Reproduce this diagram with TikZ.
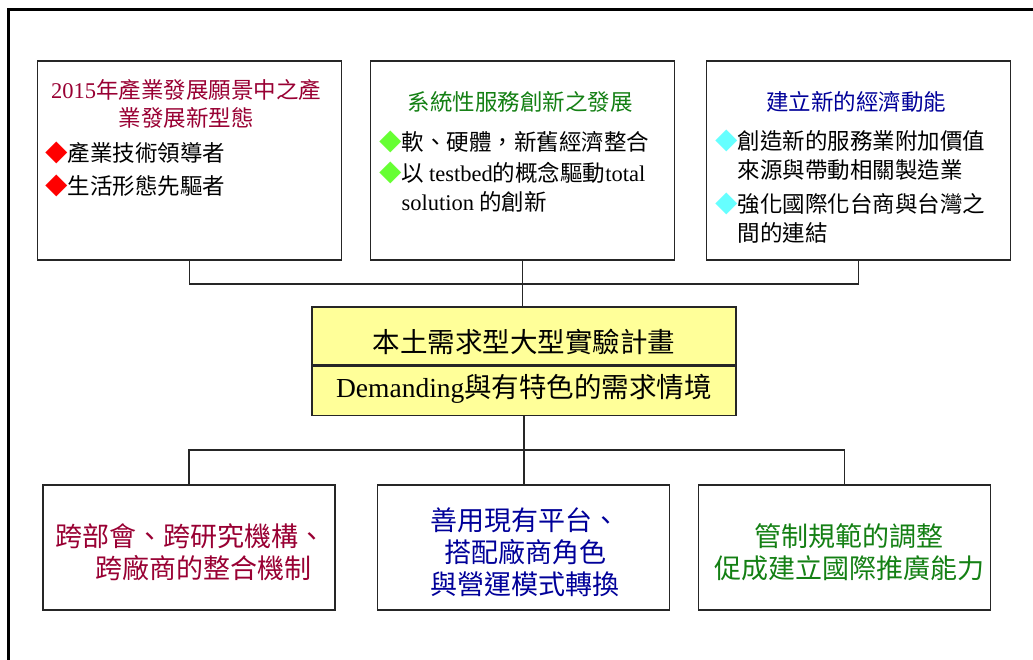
\documentclass[tikz,border=0pt]{standalone}
\usepackage{fontspec}
\setmainfont{Noto Sans CJK TC}
\newfontfamily\lat{Liberation Serif}
\usepackage{tikz}
\usetikzlibrary{positioning, calc}
\definecolor{VisionRed}{RGB}{153,0,51}
\definecolor{ServiceGreen}{RGB}{20,128,20}
\definecolor{DynamicBlue}{RGB}{0,0,153}
\definecolor{DiaRed}{RGB}{255,0,0}
\definecolor{DiaGreen}{RGB}{102,255,51}
\definecolor{DiaCyan}{RGB}{102,255,255}
\definecolor{PlanYellow}{RGB}{255,255,153}
\newcommand\topfont{\fontsize{22.5}{29}\selectfont}
\newcommand\bigfont{\fontsize{27}{32}\selectfont}
\newcommand\bul[1]{\textcolor{#1}{◆}}
\newcommand\hang{\phantom{◆}}

\begin{document}
\begin{tikzpicture}[x=1pt, y=-1pt,
	box/.style={draw=black!85, line width=1.4pt, fill=white, inner sep=0pt},
	topbox/.style={box, minimum width=304pt, minimum height=199pt},
	lowbox/.style={box, minimum width=292pt, minimum height=125pt},
	planbox/.style={box, fill=PlanYellow, minimum width=424pt},
	ttl/.style={align=center, inner sep=0pt, font=\topfont},
	lst/.style={align=left, anchor=west, inner sep=0pt, font=\topfont},
	big/.style={align=center, inner sep=0pt, font=\bigfont},
	ln/.style={line width=1.4pt, black!85}]
	\useasboundingbox (0,0) rectangle (1033,660);
	\draw[line width=3pt] (1033,10) -- (8,10) -- (8,660);
	% upper row
	\node[topbox] (vision) at (189.5,160.5) {};
	\node[topbox] (service) at (522.5,160.5) {};
	\node[topbox] (dynamic) at (858.5,160.5) {};
	\node[ttl, text=VisionRed, font=\fontsize{22.5}{27.5}\selectfont] (visiontitle) at (186,104) {{\lat 2015}年產業發展願景中之產\\業發展新型態};
	\node[ttl, text=ServiceGreen] (servicetitle) at (520,102) {系統性服務創新之發展};
	\node[ttl, text=DynamicBlue] (dynamictitle) at (856,102) {建立新的經濟動能};
	\node[lst] (visionlist) at (45,169.5) {\bul{DiaRed}產業技術領導者\\[4pt]\bul{DiaRed}生活形態先驅者};
	\node[lst] (servicelist) at (379,172) {\bul{DiaGreen}軟、硬體，新舊經濟整合\\[2pt]\bul{DiaGreen}以 {\lat testbed}的概念驅動{\lat total}\\\hang{\lat solution} 的創新};
	\node[lst] (dynamiclist) at (715,187) {\bul{DiaCyan}創造新的服務業附加價值\\\hang 來源與帶動相關製造業\\[5pt]\bul{DiaCyan}強化國際化台商與台灣之\\\hang 間的連結};
	% centre
	\node[planbox, minimum height=58pt] (planbox) at (524,336) {};
	\node[planbox, minimum height=49pt, anchor=north] (scenebox) at (planbox.south) {};
	\node[big, font=\fontsize{27.5}{32}\selectfont] (plantext) at (524,342) {本土需求型大型實驗計畫};
	\node[big, font=\fontsize{27.5}{32}\selectfont] (scenetext) at (524,389) {{\lat Demanding}與有特色的需求情境};
	% lower row
	\node[lowbox] (integrate) at (189,547.5) {};
	\node[lowbox] (platform) at (523.5,547.5) {};
	\node[lowbox] (regulate) at (844.5,547.5) {};
	\node[big, text=VisionRed] (integratetext) at (190,552.5) {跨部會、跨研究機構、\\\hspace*{26pt}跨廠商的整合機制};
	\node[big, text=DynamicBlue] (platformtext) at (525,552) {善用現有平台、\\搭配廠商角色\\與營運模式轉換};
	\node[big, text=ServiceGreen] (regulatetext) at (849,552) {管制規範的調整\\促成建立國際推廣能力};
	% connectors
	\coordinate (merge) at (522.5,284);
	\coordinate (fork) at (524,450);
	\draw[ln] (vision.south) |- (merge) -| (dynamic.south);
	\draw[ln] (service.south) -- (service.south |- planbox.north);
	\draw[ln] (scenebox.south) -- (fork);
	\draw[ln] (integrate.north) |- (fork) -| (regulate.north);
	\draw[ln] (fork) -- (fork |- platform.north);
\end{tikzpicture}
\end{document}
